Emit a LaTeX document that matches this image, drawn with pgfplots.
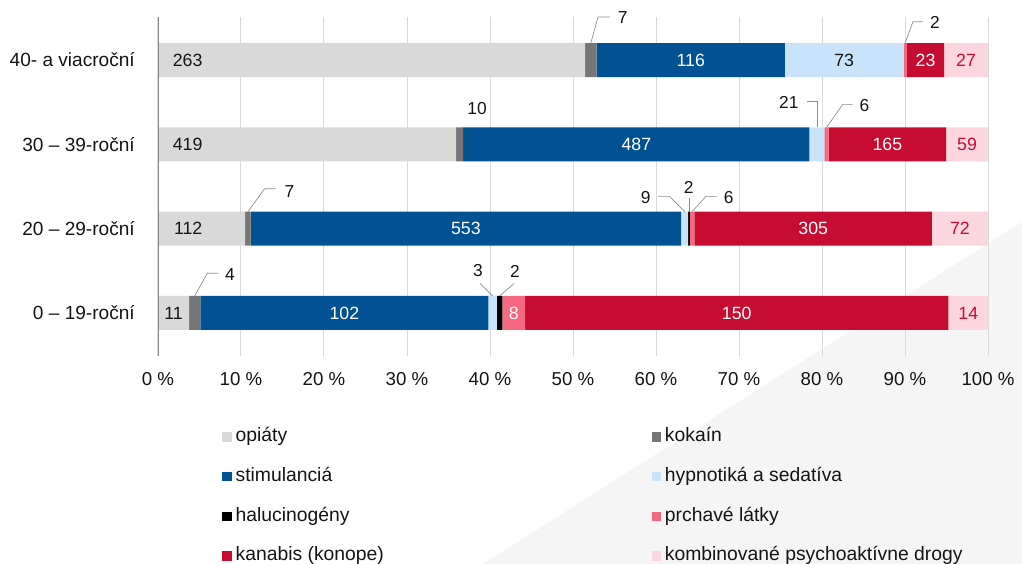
\documentclass[border=0pt]{standalone}
\usepackage{fontspec}
\setmainfont{Liberation Sans}
\usepackage{pgfplots}
\pgfplotsset{compat=1.18}
\definecolor{cOpi}{RGB}{217,217,217}
\definecolor{cKok}{RGB}{118,118,118}
\definecolor{cSti}{RGB}{0,82,147}
\definecolor{cHyp}{RGB}{201,228,250}
\definecolor{cHal}{RGB}{0,0,0}
\definecolor{cPrc}{RGB}{244,104,128}
\definecolor{cKan}{RGB}{198,12,48}
\definecolor{cKom}{RGB}{252,214,222}
\definecolor{cGrid}{RGB}{217,217,217}
\definecolor{cAxis}{RGB}{134,134,134}
\definecolor{cLead}{RGB}{140,140,140}
\definecolor{cBg}{RGB}{245,245,245}
\definecolor{cTxt}{RGB}{20,20,20}
\newcommand{\legsq}[1]{\fill[#1] (0pt,-3.5pt) rectangle (7pt,3.5pt);}
\newcommand{\fbar}{\fontsize{13.3pt}{16pt}\selectfont}
\newcommand{\fcall}{\fontsize{13pt}{16pt}\selectfont}
\pgfplotsset{samebox/.style={at={(118.5pt,156pt)}, anchor=south west,
  scale only axis, width=622.5pt, height=254.25pt,
  xmin=0, xmax=100, ymin=-0.51, ymax=3.51, clip=false}}
\begin{document}
\begin{tikzpicture}[font=\fontsize{14pt}{17pt}\selectfont]
\useasboundingbox (0,0) rectangle (766.5pt,423pt);
\fill[cBg] (766.5pt,256.5pt) -- (766.5pt,0pt) -- (362.25pt,0pt) -- cycle;
\begin{axis}[
  samebox,
  xbar stacked, bar width=25.5pt,
  axis line style={draw=none},
  xmajorgrids, grid style={cGrid, line width=0.75pt},
  major tick length=0pt,
  xtick={0,10,...,100},
  xticklabels={0 \%,10 \%,20 \%,30 \%,40 \%,50 \%,60 \%,70 \%,80 \%,90 \%,100 \%},
  xticklabel style={anchor=center, yshift=-17.5pt, text=cTxt, font=\fontsize{14pt}{17pt}\selectfont},
  ytick={0,1,2,3},
  yticklabels={0 – 19-roční,20 – 29-roční,30 – 39-roční,40- a viacroční},
  yticklabel style={anchor=east, inner sep=0pt, xshift=-17.25pt, text=cTxt, font=\fontsize{14.3pt}{17pt}\selectfont},
  legend columns=2,
  legend style={draw=none, fill=none, at={(axis description cs:0.0771,-0.215)}, anchor=north west,
    inner xsep=0pt, inner ysep=0pt, row sep=17.7pt,
    font=\fontsize{14.5pt}{17pt}\selectfont,
    nodes={inner sep=0pt, text height=9.5pt, text depth=2.5pt, anchor=west, text=cTxt},
    cells={anchor=west},
    /tikz/every odd column/.append style={column sep=3pt}},
]
% opiaty
\addplot[fill=cOpi, draw=none, legend image code/.code={\legsq{cOpi}}] coordinates {(3.741,0) (10.507,1) (35.904,2) (51.468,3)};
\addlegendentry{\makebox[312pt][l]{opiáty}}
% kokain
\addplot[fill=cKok, draw=none, legend image code/.code={\legsq{cKok}}] coordinates {(1.361,0) (0.657,1) (0.857,2) (1.370,3)};
\addlegendentry{kokaín}
% stimulancia
\addplot[fill=cSti, draw=none, legend image code/.code={\legsq{cSti}}] coordinates {(34.694,0) (51.876,1) (41.731,2) (22.701,3)};
\addlegendentry{\makebox[312pt][l]{stimulanciá}}
% hypnotika
\addplot[fill=cHyp, draw=none, legend image code/.code={\legsq{cHyp}}] coordinates {(1.020,0) (0.844,1) (1.799,2) (14.286,3)};
\addlegendentry{hypnotiká a sedatíva}
% halucinogeny
\addplot[fill=cHal, draw=none, legend image code/.code={\legsq{cHal}}] coordinates {(0.680,0) (0.188,1) (0,2) (0,3)};
\addlegendentry{\makebox[312pt][l]{halucinogény}}
% prchave
\addplot[fill=cPrc, draw=none, legend image code/.code={\legsq{cPrc}}] coordinates {(2.721,0) (0.563,1) (0.514,2) (0.391,3)};
\addlegendentry{prchavé látky}
% kanabis
\addplot[fill=cKan, draw=none, legend image code/.code={\legsq{cKan}}] coordinates {(51.020,0) (28.612,1) (14.139,2) (4.501,3)};
\addlegendentry{\makebox[312pt][l]{kanabis (konope)}}
% kombinovane
\addplot[fill=cKom, draw=none, legend image code/.code={\legsq{cKom}}] coordinates {(4.762,0) (6.754,1) (5.056,2) (5.284,3)};
\addlegendentry{kombinované psychoaktívne drogy}
\end{axis}

\begin{axis}[samebox, hide axis]
\draw[cAxis, line width=0.75pt] (axis cs:0,-0.51) -- (axis cs:0,3.51);

% in-bar labels
\node[font=\fbar, inner sep=0pt, anchor=west, text=cTxt] at (axis cs:1.75,3) {263};
\node[font=\fbar, inner sep=0pt, text=white] at (axis cs:64.19,3) {116};
\node[font=\fbar, inner sep=0pt, text=cTxt] at (axis cs:82.68,3) {73};
\node[font=\fbar, inner sep=0pt, text=white] at (axis cs:92.47,3) {23};
\node[font=\fbar, inner sep=0pt, text=cKan] at (axis cs:97.36,3) {27};
\node[font=\fbar, inner sep=0pt, anchor=west, text=cTxt] at (axis cs:1.75,2) {419};
\node[font=\fbar, inner sep=0pt, text=white] at (axis cs:57.63,2) {487};
\node[font=\fbar, inner sep=0pt, text=white] at (axis cs:87.87,2) {165};
\node[font=\fbar, inner sep=0pt, text=cKan] at (axis cs:97.47,2) {59};
\node[font=\fbar, inner sep=0pt, anchor=west, text=cTxt] at (axis cs:1.9,1) {112};
\node[font=\fbar, inner sep=0pt, text=white] at (axis cs:37.10,1) {553};
\node[font=\fbar, inner sep=0pt, text=white] at (axis cs:78.94,1) {305};
\node[font=\fbar, inner sep=0pt, text=cKan] at (axis cs:96.62,1) {72};
\node[font=\fbar, inner sep=0pt, text=cTxt] at (axis cs:1.87,0) {11};
\node[font=\fbar, inner sep=0pt, text=white] at (axis cs:22.45,0) {102};
\node[font=\fbar, inner sep=0pt, text=white] at (axis cs:42.86,0) {8};
\node[font=\fbar, inner sep=0pt, text=white] at (axis cs:69.73,0) {150};
\node[font=\fbar, inner sep=0pt, text=cKan] at (axis cs:97.62,0) {14};

% callouts
\node[font=\fcall, inner sep=0pt, text=cTxt] at (axis cs:56.0,3.498) {7};
\node[font=\fcall, inner sep=0pt, text=cTxt] at (axis cs:93.6,3.445) {2};
\node[font=\fcall, inner sep=0pt, text=cTxt] at (axis cs:38.45,2.43) {10};
\node[font=\fcall, inner sep=0pt, text=cTxt] at (axis cs:76.0,2.494) {21};
\node[font=\fcall, inner sep=0pt, text=cTxt] at (axis cs:85.1,2.462) {6};
\node[font=\fcall, inner sep=0pt, text=cTxt] at (axis cs:15.83,1.44) {7};
\node[font=\fcall, inner sep=0pt, text=cTxt] at (axis cs:58.77,1.368) {9};
\node[font=\fcall, inner sep=0pt, text=cTxt] at (axis cs:63.93,1.486) {2};
\node[font=\fcall, inner sep=0pt, text=cTxt] at (axis cs:68.76,1.368) {6};
\node[font=\fcall, inner sep=0pt, text=cTxt] at (axis cs:8.67,0.457) {4};
\node[font=\fcall, inner sep=0pt, text=cTxt] at (axis cs:38.55,0.498) {3};
\node[font=\fcall, inner sep=0pt, text=cTxt] at (axis cs:43.0,0.498) {2};

\draw[cLead, line width=0.5pt] (axis cs:52.15,3.2016) -- (axis cs:53.01,3.51) -- (axis cs:54.46,3.51);
\draw[cLead, line width=0.5pt] (axis cs:90.02,3.2016) -- (axis cs:90.96,3.454) -- (axis cs:92.17,3.454);
\draw[cLead, line width=0.5pt] (axis cs:79.39,2.2016) -- (axis cs:79.39,2.504) -- (axis cs:78.19,2.504);
\draw[cLead, line width=0.5pt] (axis cs:80.55,2.2016) -- (axis cs:82.5,2.474) -- (axis cs:83.7,2.474);
\draw[cLead, line width=0.5pt] (axis cs:10.84,1.2016) -- (axis cs:12.84,1.474) -- (axis cs:14.22,1.474);
\draw[cLead, line width=0.5pt] (axis cs:60.24,1.383) -- (axis cs:61.63,1.383) -- (axis cs:63.46,1.2016);
\draw[cLead, line width=0.5pt] (axis cs:63.98,1.36) -- (axis cs:63.98,1.2016);
\draw[cLead, line width=0.5pt] (axis cs:64.35,1.2016) -- (axis cs:66.0,1.383) -- (axis cs:67.37,1.383);
\draw[cLead, line width=0.5pt] (axis cs:4.42,0.2016) -- (axis cs:5.94,0.471) -- (axis cs:7.27,0.471);
\draw[cLead, line width=0.5pt] (axis cs:38.8,0.35) -- (axis cs:40.31,0.2016);
\draw[cLead, line width=0.5pt] (axis cs:42.9,0.35) -- (axis cs:41.16,0.2016);
\end{axis}
\end{tikzpicture}
\end{document}
